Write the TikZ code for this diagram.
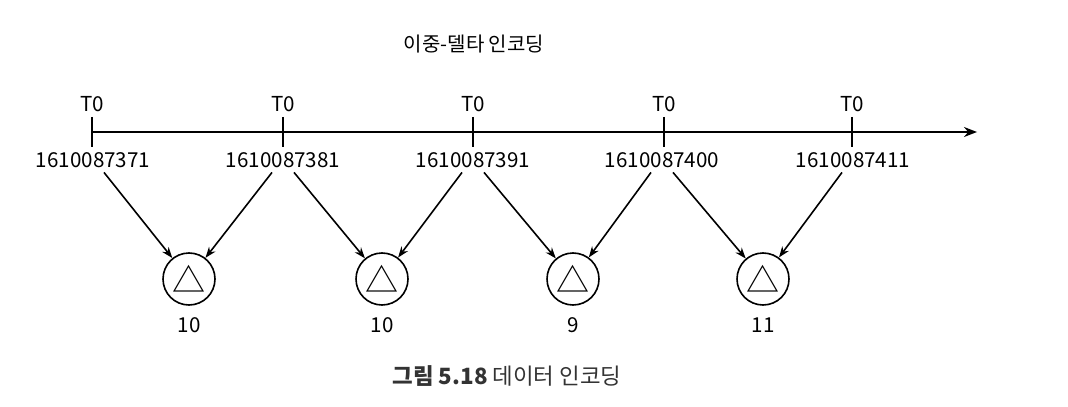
\documentclass[tikz,border=0pt]{standalone}
\usepackage{fontspec}
\setmainfont{Noto Sans CJK KR}
\usetikzlibrary{arrows.meta,positioning}

\begin{document}
\begin{tikzpicture}[>=Stealth, x=0.5pt, y=-0.5pt, line width=0.8pt,
  stamp/.style={font=\fontsize{10.3}{12}\selectfont, inner sep=2pt},
  delta/.style={circle,draw,minimum size=26pt,inner sep=0pt,
    font=\fontsize{16.5}{16.5}\selectfont},
  gap/.style={font=\fontsize{10.3}{12}\selectfont},
  link/.style={->, >={Stealth[length=5.5pt,width=4pt]}}]
  \useasboundingbox (0,0) rectangle (1068,406);
  % title
  \node[font=\fontsize{10}{12}\selectfont] (title) at (474,44) {이중-델타 인코딩};
  % time axis
  \coordinate (start) at (92,132);
  \coordinate (end) at (977,132);
  \draw[-{Stealth[length=6.5pt,width=5pt]}] (start) -- (end);
  \draw (92,117) -- (92,147);
  \draw (283,117) -- (283,147);
  \draw (473,117) -- (473,147);
  \draw (664,117) -- (664,147);
  \draw (852,117) -- (852,147);
  \node[stamp] (t1) at (92,104) {T0};
  \node[stamp] (t2) at (283,104) {T0};
  \node[stamp] (t3) at (473,104) {T0};
  \node[stamp] (t4) at (664,104) {T0};
  \node[stamp] (t5) at (852,104) {T0};
  \node[stamp] (n1) at (93,160) {1610087371};
  \node[stamp] (n2) at (283,160) {1610087381};
  \node[stamp] (n3) at (473,160) {1610087391};
  \node[stamp] (n4) at (662,160) {1610087400};
  \node[stamp] (n5) at (853,160) {1610087411};
  % deltas
  \node[delta] (d1) at (189,279) {△};
  \node[delta] (d2) at (382,279) {△};
  \node[delta] (d3) at (573,279) {△};
  \node[delta] (d4) at (763,279) {△};
  \node[gap] (v1) at (189,325) {10};
  \node[gap] (v2) at (382,325) {10};
  \node[gap] (v3) at (573,325) {9};
  \node[gap] (v4) at (763,325) {11};
  \draw[link] ([xshift=5.5pt]n1.south) -- (d1);
  \draw[link] ([xshift=-5.5pt]n2.south) -- (d1);
  \draw[link] ([xshift=5.5pt]n2.south) -- (d2);
  \draw[link] ([xshift=-5.5pt]n3.south) -- (d2);
  \draw[link] ([xshift=5.5pt]n3.south) -- (d3);
  \draw[link] ([xshift=-5.5pt]n4.south) -- (d3);
  \draw[link] ([xshift=5.5pt]n4.south) -- (d4);
  \draw[link] ([xshift=-5.5pt]n5.south) -- (d4);
  % caption
  \node[font=\fontsize{11.2}{13}\selectfont, text=black!80] (caption) at (507,376)
    {\textbf{그림 5.18} 데이터 인코딩};
\end{tikzpicture}
\end{document}
